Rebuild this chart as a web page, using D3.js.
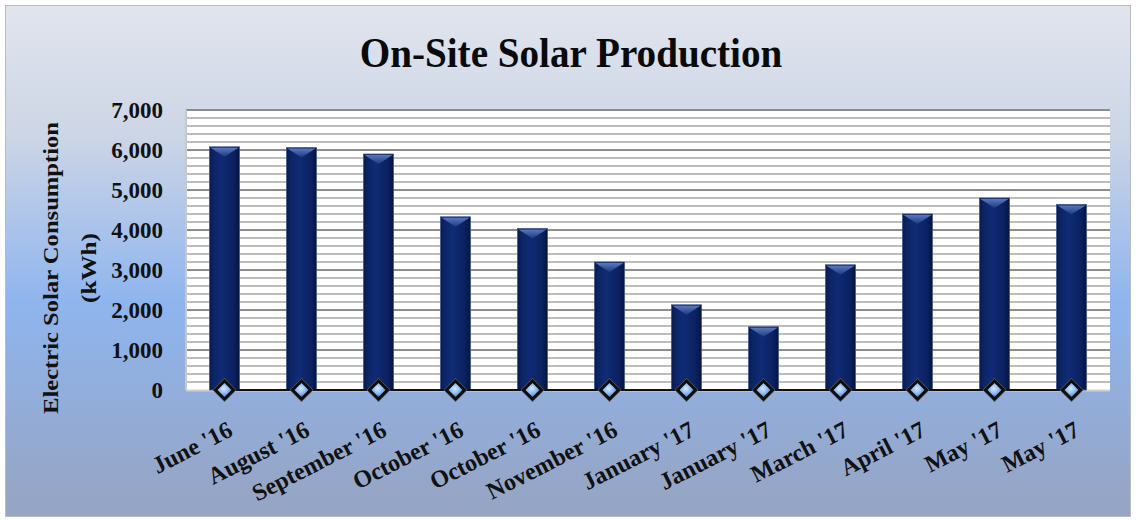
<!DOCTYPE html>
<html>
<head>
<meta charset="utf-8">
<script src="https://cdn.jsdelivr.net/npm/d3@7"></script>
<style>
  html, body { margin: 0; padding: 0; background: #fff; }
  svg { display: block; }
</style>
</head>
<body>
<div id="chart"></div>
<script>
const W = 1141, H = 521;

// data
const months = ["June '16", "August '16", "September '16", "October '16", "October '16", "November '16",
                "January '17", "January '17", "March '17", "April '17", "May '17", "May '17"];
const production = [6080, 6060, 5900, 4330, 4040, 3200, 2130, 1580, 3130, 4400, 4800, 4640];
const baseline = [0, 0, 0, 0, 0, 0, 0, 0, 0, 0, 0, 0];
const yTicks = [0, 1000, 2000, 3000, 4000, 5000, 6000, 7000];

const PL = 186, PR = 1110, PT = 110, PB = 390;
const SERIF = "'Liberation Serif', 'DejaVu Serif', serif";

const svg = d3.select('#chart').append('svg')
  .attr('width', W).attr('height', H);

const defs = svg.append('defs');

const bg = defs.append('linearGradient').attr('id', 'bg')
  .attr('x1', 0).attr('y1', 0).attr('x2', 0).attr('y2', 1);
bg.append('stop').attr('offset', '0%').attr('stop-color', '#e1e5ee');
bg.append('stop').attr('offset', '25%').attr('stop-color', '#cdd6e6');
bg.append('stop').attr('offset', '58%').attr('stop-color', '#8fb5ee');
bg.append('stop').attr('offset', '100%').attr('stop-color', '#96a4c2');

const barG = defs.append('linearGradient').attr('id', 'barG')
  .attr('x1', 0).attr('y1', 0).attr('x2', 1).attr('y2', 0);
barG.append('stop').attr('offset', '0%').attr('stop-color', '#091b4e');
barG.append('stop').attr('offset', '15%').attr('stop-color', '#0c2565');
barG.append('stop').attr('offset', '40%').attr('stop-color', '#102b74');
barG.append('stop').attr('offset', '80%').attr('stop-color', '#0b2262');
barG.append('stop').attr('offset', '100%').attr('stop-color', '#051540');

const capG = defs.append('linearGradient').attr('id', 'capG')
  .attr('x1', 0).attr('y1', 0).attr('x2', 0).attr('y2', 1);
capG.append('stop').attr('offset', '0%').attr('stop-color', '#5a78bb');
capG.append('stop').attr('offset', '100%').attr('stop-color', '#1d3a82');

const dia = defs.append('radialGradient').attr('id', 'dia')
  .attr('cx', '45%').attr('cy', '40%').attr('r', '60%');
dia.append('stop').attr('offset', '0%').attr('stop-color', '#d6e8ff');
dia.append('stop').attr('offset', '60%').attr('stop-color', '#8cb8ee');
dia.append('stop').attr('offset', '100%').attr('stop-color', '#4d7fc8');

// chart background
svg.append('rect')
  .attr('x', 5.5).attr('y', 5.5).attr('width', 1125).attr('height', 511)
  .attr('fill', 'url(#bg)').attr('stroke', '#b9bcc2').attr('stroke-width', 1);

const x = d3.scaleBand().domain(d3.range(months.length)).range([PL, PR]).paddingInner(0.61).paddingOuter(0.305);
const y = d3.scaleLinear().domain([0, 7000]).range([PB, PT]);

// plot area
svg.append('rect')
  .attr('x', PL).attr('y', PT).attr('width', PR - PL).attr('height', PB - PT)
  .attr('fill', '#fff');

const minor = d3.range(200, 7000, 200).filter(v => v % 1000 !== 0);
svg.append('g').selectAll('line').data(minor).join('line')
  .attr('x1', PL).attr('x2', PR)
  .attr('y1', d => y(d)).attr('y2', d => y(d))
  .attr('stroke', '#bdbdbd').attr('stroke-width', 2);

svg.append('g').selectAll('line').data(yTicks.filter(v => v > 0)).join('line')
  .attr('x1', PL).attr('x2', PR)
  .attr('y1', d => y(d)).attr('y2', d => y(d))
  .attr('stroke', '#8c8c8c').attr('stroke-width', 2);

svg.append('line')
  .attr('x1', PL).attr('x2', PL).attr('y1', PT).attr('y2', PB)
  .attr('stroke', '#c8c8c8').attr('stroke-width', 2);
svg.append('line')
  .attr('x1', PL).attr('x2', PR).attr('y1', PB + 0.5).attr('y2', PB + 0.5)
  .attr('stroke', '#d0d0d0').attr('stroke-width', 2);

// bars
const bars = svg.append('g').selectAll('g').data(production).join('g');
bars.append('rect')
  .attr('x', (d, i) => x(i)).attr('y', d => y(d))
  .attr('width', x.bandwidth()).attr('height', d => PB - y(d))
  .attr('fill', 'url(#barG)')
  .attr('stroke', '#42598f').attr('stroke-width', 0.8);
bars.append('path')
  .attr('d', (d, i) => {
    const x0 = x(i), x1 = x(i) + x.bandwidth(), t = y(d);
    return `M${x0 + 1},${t + 1} L${x1 - 1},${t + 1} L${(x0 + x1) / 2},${t + 10} Z`;
  })
  .attr('fill', 'url(#capG)');

// zero series line with diamond markers
const cx = i => x(i) + x.bandwidth() / 2;
svg.append('path')
  .attr('d', d3.line().x((d, i) => cx(i)).y(d => y(d))(baseline))
  .attr('fill', 'none').attr('stroke', '#111').attr('stroke-width', 2.2);

const marks = svg.append('g').selectAll('g').data(baseline).join('g')
  .attr('transform', (d, i) => `translate(${cx(i)},${y(d)})`);
marks.append('path').attr('d', 'M0,-12 L12,0 L0,12 L-12,0 Z').attr('fill', '#555');
marks.append('path').attr('d', 'M0,-11 L11,0 L0,11 L-11,0 Z').attr('fill', '#0d0d0d');
marks.append('path').attr('d', 'M0,-7 L7,0 L0,7 L-7,0 Z').attr('fill', 'url(#dia)');

// y axis labels
svg.append('g').selectAll('text').data(yTicks).join('text')
  .attr('x', 163).attr('y', d => y(d))
  .attr('text-anchor', 'end').attr('dominant-baseline', 'central')
  .attr('font-family', SERIF).attr('font-weight', 'bold').attr('font-size', 23)
  .attr('fill', '#111')
  .text(d3.format(','));

// x axis labels
svg.append('g').selectAll('text').data(months).join('text')
  .attr('transform', (d, i) => `translate(${cx(i) + 6},${428}) rotate(-27)`)
  .attr('text-anchor', 'end').attr('dominant-baseline', 'central')
  .attr('font-family', SERIF).attr('font-weight', 'bold').attr('font-size', 24)
  .attr('fill', '#111')
  .text(d => d);

// y axis title
svg.append('text')
  .attr('transform', `translate(58,${268}) rotate(-90)`)
  .attr('text-anchor', 'middle')
  .attr('font-family', SERIF).attr('font-weight', 'bold').attr('font-size', 21)
  .attr('textLength', 292).attr('lengthAdjust', 'spacingAndGlyphs')
  .attr('fill', '#111')
  .text('Electric Solar Consumption');
svg.append('text')
  .attr('transform', `translate(96,${268}) rotate(-90)`)
  .attr('text-anchor', 'middle')
  .attr('font-family', SERIF).attr('font-weight', 'bold').attr('font-size', 21)
  .attr('textLength', 70).attr('lengthAdjust', 'spacingAndGlyphs')
  .attr('fill', '#111')
  .text('(kWh)');

// title
svg.append('text')
  .attr('transform', 'translate(571,67) scale(0.91,1)')
  .attr('text-anchor', 'middle')
  .attr('font-family', SERIF).attr('font-weight', 'bold').attr('font-size', 43)
  .attr('fill', '#0a0a0a')
  .text('On-Site Solar Production');
</script>
</body>
</html>
